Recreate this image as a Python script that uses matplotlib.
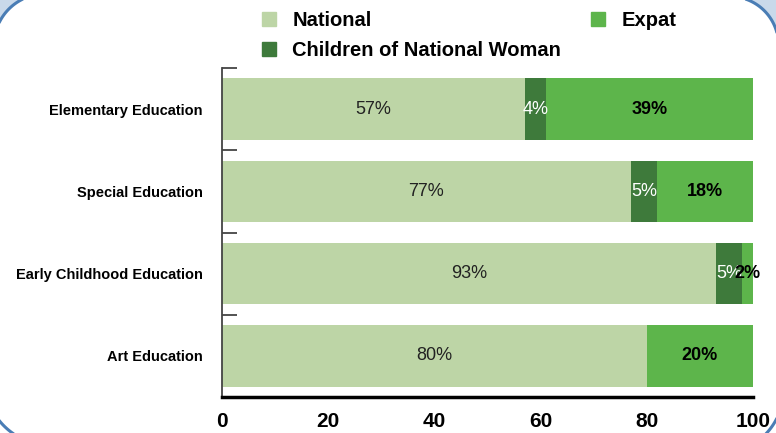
import numpy as np
import matplotlib.pyplot as plt
from matplotlib.patches import Patch, Polygon

# data
categories = ['Elementary Education', 'Special Education',
              'Early Childhood Education', 'Art Education']
national = [57, 77, 93, 80]
children = [4, 5, 5, 0]
expat = [39, 18, 2, 20]
x_ticks = [0, 20, 40, 60, 80, 100]

c_nat = '#bdd5a6'
c_child = '#3e7a3b'
c_exp = '#5db54b'

plt.rcParams['font.family'] = ['Liberation Sans', 'DejaVu Sans']

fig = plt.figure(figsize=(7.76, 4.33), dpi=100)

# decorative rounded frame corners (pixel coords, y down)
bg = fig.add_axes([0, 0, 1, 1], zorder=0)
bg.set_xlim(0, 776)
bg.set_ylim(433, 0)
bg.axis('off')
# (center, radius, start angle, end angle, image corner to fill or None)
corners = [((45, 45), 51, 1.0, 1.5, (0, 0)),
           ((730, 45), 48.5, 1.5, 2.0, (776, 0)),
           ((50, 380), 65, 0.5, 1.0, None),
           ((720, 390), 63.5, 0.0, 0.5, None)]
for (cx, cy), r, a0, a1, corner in corners:
    t = np.linspace(a0 * np.pi, a1 * np.pi, 80)
    xs = cx + r * np.cos(t)
    ys = cy + r * np.sin(t)
    bg.plot(xs, ys, color='#4a7db5', lw=2.2, solid_capstyle='butt')
    if corner is not None:
        pts = [corner] + list(zip(xs, ys))
        bg.add_patch(Polygon(pts, closed=True, color='#c9d9ea', lw=0, zorder=-1))

ax = fig.add_axes([222 / 776, 1 - 397 / 433, 531 / 776, 329 / 433], zorder=1)
ax.patch.set_alpha(0)

y = np.arange(len(categories))
h = 0.75
nat = np.array(national)
chi = np.array(children)
exp_ = np.array(expat)
ax.barh(y, nat, height=h, color=c_nat)
ax.barh(y, chi, left=nat, height=h, color=c_child)
ax.barh(y, exp_, left=nat + chi, height=h, color=c_exp)

for i in range(len(categories)):
    ax.text(nat[i] / 2, y[i], f'{nat[i]}%', ha='center', va='center',
            fontsize=13, color='#222222')
    if chi[i] > 0:
        ax.text(nat[i] + chi[i] / 2, y[i], f'{chi[i]}%', ha='center', va='center',
                fontsize=13, color='white')
    ax.text(nat[i] + chi[i] + exp_[i] / 2, y[i], f'{exp_[i]}%', ha='center',
            va='center', fontsize=13, fontweight='bold', color='black')

ax.set_xlim(0, 100)
ax.set_ylim(len(categories) - 0.5, -0.5)

ax.set_xticks(x_ticks)
ax.set_xticklabels([str(v) for v in x_ticks], fontsize=15, fontweight='bold')
ax.tick_params(axis='x', length=0, pad=11)

ax.set_yticks(y - 0.5)
ax.set_yticklabels([])
ax.tick_params(axis='y', which='major', direction='in', length=11,
               width=1.3, color='#444444')
ax.set_yticks(y, minor=True)
ax.set_yticklabels(categories, minor=True, fontsize=10.5, fontweight='bold')
ax.tick_params(axis='y', which='minor', length=0, pad=14)

for s in ['top', 'right']:
    ax.spines[s].set_visible(False)
ax.spines['left'].set_color('#444444')
ax.spines['left'].set_linewidth(1.3)
ax.spines['bottom'].set_color('black')
ax.spines['bottom'].set_linewidth(2.5)

handles = [Patch(color=c_nat, label='National'),
           Patch(color=c_child, label='Children of National Woman'),
           Patch(color=c_exp, label='Expat')]
fig.legend(handles=handles, ncol=2, loc='upper left',
           bbox_to_anchor=(262 / 776, 1 - 11 / 433), frameon=False,
           prop={'weight': 'bold', 'size': 14.5}, handlelength=0.7,
           handleheight=0.7, handletextpad=0.8, columnspacing=1.5,
           labelspacing=0.55, borderpad=0, borderaxespad=0)

fig.savefig('out.png', dpi=100)
